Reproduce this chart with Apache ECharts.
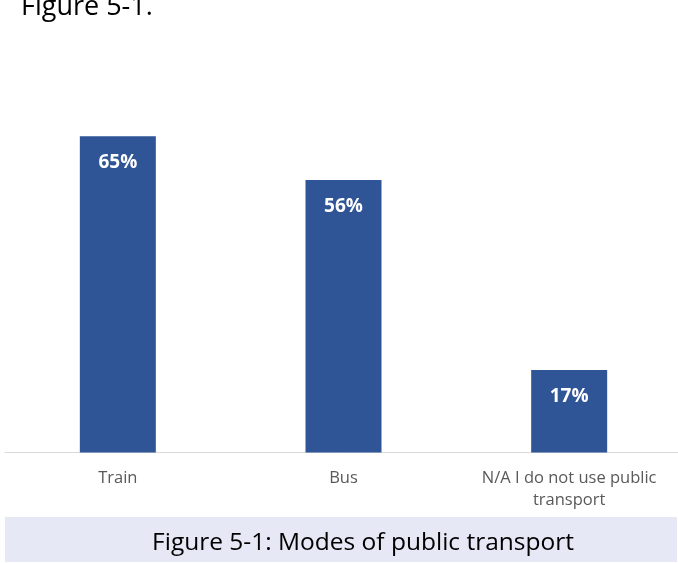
<!DOCTYPE html>
<html>
<head>
<meta charset="utf-8">
<style>html,body{margin:0;padding:0;background:#fff;overflow:hidden;width:678px;height:563px;}#c{width:686px;height:563px;}</style>
<script src="https://cdn.jsdelivr.net/npm/echarts@6/dist/echarts.min.js"></script>
</head>
<body>
<div id="c"></div>
<script>
const categories = ['Train', 'Bus', 'N/A I do not use public\ntransport'];
const values = [65, 56, 17];
const headingText = 'Figure 5-1.';
const captionText = 'Figure 5-1: Modes of public transport';

const chart = echarts.init(document.getElementById('c'));
const font = '"Open Sans", "Liberation Sans", sans-serif';
chart.setOption({
  animation: false,
  grid: { left: 5, right: 4, top: 112, bottom: 110.4, containLabel: false },
  xAxis: {
    type: 'category',
    data: categories,
    axisLine: { show: true, lineStyle: { color: '#d9d9d9', width: 1 } },
    axisTick: { show: false },
    axisLabel: { color: '#595959', fontSize: 16.5, fontFamily: font, margin: 15, lineHeight: 22, interval: 0 }
  },
  yAxis: {
    type: 'value', min: 0, max: 70, show: false,
    splitLine: { show: false }
  },
  series: [{
    type: 'bar',
    data: values,
    barWidth: 76,
    itemStyle: { color: '#2f5597' },
    label: {
      show: true, position: 'insideTop', distance: 17,
      formatter: p => p.value + '%',
      color: '#ffffff', fontWeight: 'bold', fontSize: 19, fontFamily: font
    }
  }],
  graphic: [
    { type: 'text', x: 21, y: 21, style: { text: headingText, fontSize: 27, fill: '#000', fontFamily: font, verticalAlign: 'bottom' } },
    { type: 'rect', shape: { x: 5, y: 517, width: 672, height: 45 }, style: { fill: '#e6e8f5' } },
    { type: 'text', x: 363, y: 543, style: { text: captionText, fontSize: 24.5, fill: '#000', fontFamily: font, align: 'center', verticalAlign: 'middle' } }
  ]
});
</script>
</body>
</html>
